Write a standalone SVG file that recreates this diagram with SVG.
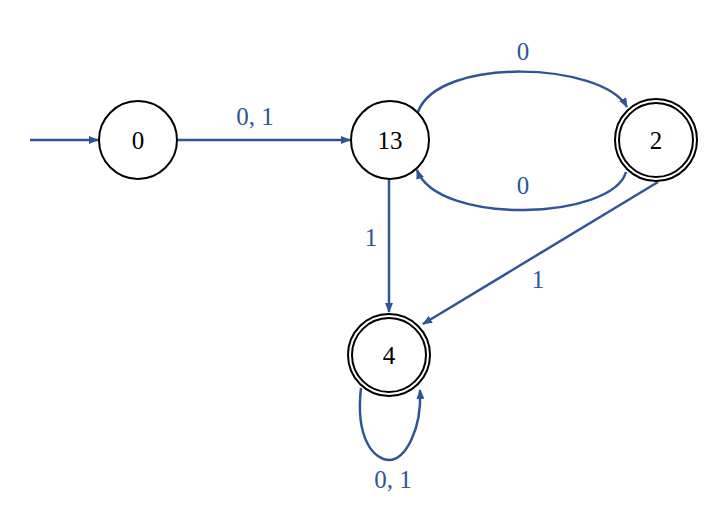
<svg xmlns="http://www.w3.org/2000/svg" width="727" height="526" viewBox="0 0 727 526">
<style>
.n{fill:#fff;stroke:#000;stroke-width:2}
.t{font-family:"Liberation Serif","DejaVu Serif",serif;font-size:25px;fill:#000;text-anchor:middle}
.e{fill:none;stroke:#2F5597;stroke-width:2.5}
.l{font-family:"Liberation Serif","DejaVu Serif",serif;font-size:25px;fill:#2F5597;text-anchor:middle}
</style>
<defs>
<marker id="a" markerWidth="10" markerHeight="8" refX="9" refY="4" orient="auto" markerUnits="userSpaceOnUse">
<path d="M0,0 L10,4 L0,8 Z" fill="#2F5597"/>
</marker>
</defs>
<rect width="727" height="526" fill="#fff"/>
<g id="connectors">
<path class="e" d="M30,140 L98,140" marker-end="url(#a)"/>
<path class="e" d="M177,140 L350,140" marker-end="url(#a)"/>
<path class="e" d="M418,112 C438,56 602,62 627,107" marker-end="url(#a)"/>
<path class="e" d="M626,172 C612,220 438,226 417,170" marker-end="url(#a)"/>
<path class="e" d="M389,179 L389,312" marker-end="url(#a)"/>
<path class="e" d="M658,182 L423,324" marker-end="url(#a)"/>
<path class="e" d="M361,388 C355,440 375,460 389,460 C405,460 422,430 420,390" marker-end="url(#a)"/>
</g>
<g id="labels">
<text class="l" x="255" y="125">0, 1</text>
<text class="l" x="523" y="60">0</text>
<text class="l" x="523" y="194">0</text>
<text class="l" x="371" y="246">1</text>
<text class="l" x="538" y="288">1</text>
<text class="l" x="393" y="488">0, 1</text>
</g>
<g id="node0">
<circle class="n" cx="138" cy="140" r="39"/>
<text class="t" x="138" y="149">0</text>
</g>
<g id="node13">
<circle class="n" cx="390" cy="140" r="39"/>
<text class="t" x="390" y="149">13</text>
</g>
<g id="node2">
<circle class="n" cx="656" cy="140" r="41"/>
<circle class="n" cx="656" cy="140" r="37"/>
<text class="t" x="656" y="149">2</text>
</g>
<g id="node4">
<circle class="n" cx="389" cy="355" r="41"/>
<circle class="n" cx="389" cy="355" r="37"/>
<text class="t" x="389" y="364">4</text>
</g>
</svg>
